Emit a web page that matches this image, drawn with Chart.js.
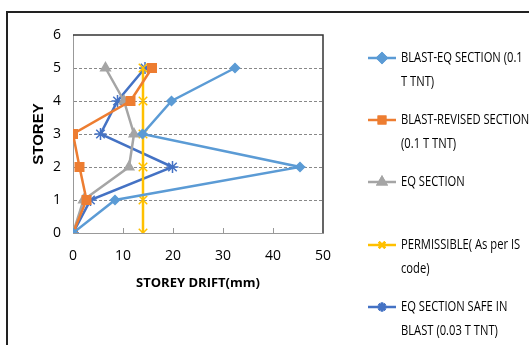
<!DOCTYPE html>
<html>
<head>
<meta charset="utf-8">
<script src="https://cdn.jsdelivr.net/npm/chart.js@4.4.1/dist/chart.umd.min.js"></script>
<style>
  html, body { margin: 0; padding: 0; background: #fff; }
  #wrap { position: relative; width: 529px; height: 345px; }
</style>
</head>
<body>
<div id="wrap"><canvas id="chart" width="529" height="345"></canvas></div>
<script>
// storey levels and drift values (mm)
const storeys = [0, 1, 2, 3, 4, 5];
const blastEq = [0, 8.4, 45.4, 13.9, 19.7, 32.4];
const blastRevised = [0, 2.7, 1.3, 0, 11.5, 15.8];
const eqSection = [0, 2.1, 11.2, 12.2, 10.2, 6.5];
const permissible = [14, 14, 14, 14, 14, 14];
const eqSafe = [0, 3.5, 19.9, 5.5, 8.9, 14.4];

const xTicks = [0, 10, 20, 30, 40, 50];
const yTicks = [0, 1, 2, 3, 4, 5, 6];

const legendLines = [
    ['BLAST-EQ SECTION (0.1', 'T TNT)'],
    ['BLAST-REVISED SECTION', '(0.1 T TNT)'],
    ['EQ SECTION'],
    ['PERMISSIBLE( As per IS', 'code)'],
    ['EQ SECTION SAFE IN', 'BLAST (0.03 T TNT)']
];
const legendY = [58, 120, 182, 245, 307];

const FONT = "'Open Sans', sans-serif";

function toPoints(values) {
    return values.map((v, i) => ({ x: v, y: storeys[i] }));
}

function series(label, values, color, style, radius) {
    return {
        label: label,
        data: toPoints(values),
        showLine: true,
        borderColor: color,
        backgroundColor: color,
        borderWidth: 2.5,
        pointStyle: style,
        pointRadius: radius,
        pointBorderColor: color,
        pointBackgroundColor: color,
        pointBorderWidth: 1.5
    };
}

const datasets = [
    series('BLAST-EQ SECTION (0.1 T TNT)', blastEq, '#5B9BD5', 'rectRot', 4.5),
    series('BLAST-REVISED SECTION (0.1 T TNT)', blastRevised, '#ED7D31', 'rect', 6),
    series('EQ SECTION', eqSection, '#A5A5A5', 'triangle', 5.5),
    series('PERMISSIBLE( As per IS code)', permissible, '#FFC000', 'crossRot', 6),
    series('EQ SECTION SAFE IN BLAST (0.03 T TNT)', eqSafe, '#4472C4', 'star', 6)
];

// draw condensed text (the original font is a narrow one)
function narrowText(ctx, text, x, y, squeeze) {
    ctx.save();
    ctx.translate(x, y);
    ctx.scale(squeeze, 1);
    ctx.fillText(text, 0, 0);
    ctx.restore();
}

// frame, plot border, inside tick marks and the wrapped legend
const decor = {
    id: 'decor',
    beforeDraw(chart) {
        const ctx = chart.ctx;
        ctx.save();
        ctx.fillStyle = '#fff';
        ctx.fillRect(0, 0, chart.width, chart.height);
        ctx.strokeStyle = '#222';
        ctx.lineWidth = 2;
        ctx.beginPath();
        ctx.moveTo(7, 346);
        ctx.lineTo(7, 12);
        ctx.lineTo(530, 12);
        ctx.stroke();
        ctx.restore();
    },
    afterDatasetsDraw(chart) {
        const ctx = chart.ctx;
        const a = chart.chartArea;
        const xs = chart.scales.x;
        ctx.save();
        ctx.strokeStyle = '#333';
        ctx.lineWidth = 1.5;
        ctx.beginPath();
        ctx.moveTo(a.left, a.top);
        ctx.lineTo(a.right, a.top);
        ctx.lineTo(a.right, a.bottom);
        ctx.stroke();
        ctx.strokeStyle = '#999';
        ctx.lineWidth = 1;
        ctx.beginPath();
        xTicks.slice(1, -1).forEach(v => {
            const px = Math.round(xs.getPixelForValue(v)) + 0.5;
            ctx.moveTo(px, a.bottom);
            ctx.lineTo(px, a.bottom - 5);
        });
        ctx.stroke();

        // legend
        chart.data.datasets.forEach((ds, i) => {
            const y = legendY[i];
            ctx.strokeStyle = ds.borderColor;
            ctx.lineWidth = 2.5;
            ctx.beginPath();
            ctx.moveTo(368, y);
            ctx.lineTo(396, y);
            ctx.stroke();
            Chart.helpers.drawPoint(ctx, {
                pointStyle: ds.pointStyle,
                radius: Math.min(ds.pointRadius, 4.5),
                borderWidth: 1.5,
                rotation: 0
            }, 382, y);
            ctx.fillStyle = ds.borderColor;
            ctx.strokeStyle = ds.borderColor;
            ctx.fill();
            ctx.stroke();
            ctx.fillStyle = '#000';
            ctx.font = '14px ' + FONT;
            ctx.textBaseline = 'middle';
            legendLines[i].forEach((t, j) => narrowText(ctx, t, 401, y + j * 24.5, 0.8));
        });
        ctx.restore();
    }
};

new Chart(document.getElementById('chart'), {
    type: 'scatter',
    data: { datasets: datasets },
    plugins: [decor],
    options: {
        responsive: false,
        animation: false,
        layout: { padding: { left: 26, right: 206, top: 35, bottom: 50 } },
        plugins: {
            legend: { display: false },
            tooltip: { enabled: false }
        },
        scales: {
            x: {
                type: 'linear',
                min: 0,
                max: 50,
                afterBuildTicks: scale => { scale.ticks = xTicks.map(v => ({ value: v })); },
                afterFit: scale => { scale.height = 62; },
                grid: { display: false },
                border: { display: true, color: '#999', width: 1 },
                ticks: { color: '#000', font: { family: FONT, size: 14 }, padding: 7, maxRotation: 0 },
                title: {
                    display: true,
                    text: 'STOREY DRIFT(mm)',
                    color: '#000',
                    font: { family: FONT, size: 13, weight: 'bold' },
                    padding: { top: 4 }
                }
            },
            y: {
                type: 'linear',
                min: 0,
                max: 6,
                afterBuildTicks: scale => { scale.ticks = yTicks.map(v => ({ value: v })); },
                afterFit: scale => { scale.width = 47; },
                grid: {
                    color: ctx => (ctx.tick.value > 0 && ctx.tick.value < 6) ? '#888' : 'rgba(0,0,0,0)',
                    drawTicks: false,
                    lineWidth: 1
                },
                border: { display: true, color: '#999', width: 1, dash: [3, 2] },
                ticks: { color: '#000', font: { family: FONT, size: 14 }, padding: 12 },
                title: {
                    display: true,
                    text: 'STOREY',
                    color: '#000',
                    font: { family: "'Liberation Sans', sans-serif", size: 15, weight: 'bold' },
                    padding: { bottom: 0 }
                }
            }
        }
    }
});
</script>
</body>
</html>
